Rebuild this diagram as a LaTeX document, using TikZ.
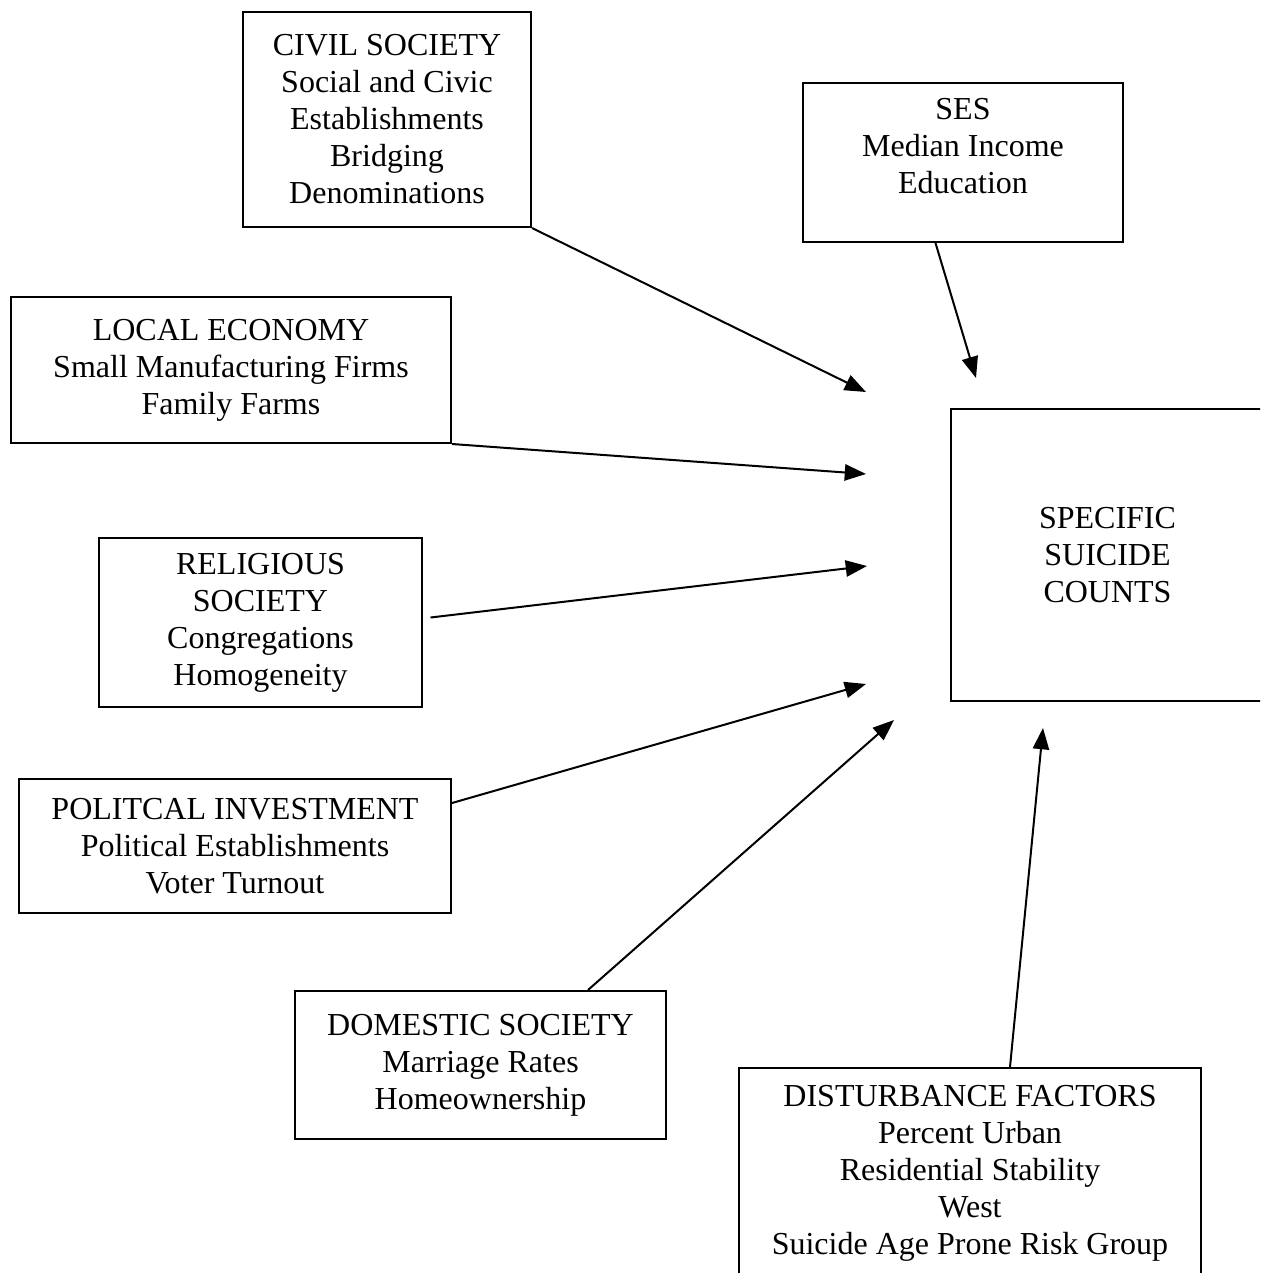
\documentclass[tikz,border=0pt]{standalone}
\usepackage{fontspec}
\setmainfont{Liberation Serif}
\usetikzlibrary{arrows.meta, positioning}
\tikzset{>={Triangle[length=8.5pt,width=6.5pt]},
    factor/.style={draw,line width=0.8pt,align=center,inner sep=0pt,anchor=north west,
        font=\fontsize{12.8pt}{14.8pt}\selectfont},
    link/.style={->,line width=0.8pt}}

\begin{document}
\begin{tikzpicture}
[x=0.4pt,y=-0.4pt]
\clip (0,0) rectangle (1260,1273);
\node[factor,minimum width=115.2pt,minimum height=86pt] (civil) at (242,11)
    {CIVIL SOCIETY\\Social and Civic\\Establishments\\Bridging\\Denominations};
\node[factor,minimum width=128pt,minimum height=63.6pt] (ses) at (802,82)
    {\parbox[c][63.6pt][t]{128pt}{\centering\vspace{6pt}SES\\Median Income\\Education}};
\node[factor,minimum width=176pt,minimum height=58.4pt] (local) at (10,296)
    {LOCAL ECONOMY\\Small Manufacturing Firms\\Family Farms};
\node[factor,minimum width=129.2pt,minimum height=67.6pt] (relig) at (98,537)
    {RELIGIOUS\\SOCIETY\\Congregations\\Homogeneity};
\node[factor,minimum width=172.8pt,minimum height=53.6pt] (polit) at (18,778)
    {POLITCAL INVESTMENT\\Political Establishments\\Voter Turnout};
\node[factor,minimum width=148.4pt,minimum height=59.2pt] (domest) at (294,990)
    {DOMESTIC SOCIETY\\Marriage Rates\\Homeownership};
\node[factor,minimum width=184.8pt,minimum height=84pt] (disturb) at (738,1067)
    {DISTURBANCE FACTORS\\Percent Urban\\Residential Stability\\West\\Suicide Age Prone Risk Group};
\node[factor,minimum width=125.2pt,minimum height=116.8pt] (counts) at (950,408)
    {SPECIFIC\\SUICIDE\\COUNTS};

% arrow heads stop short of the counts box
\coordinate (civilend) at (866,392);
\coordinate (sesend) at (976,378);
\coordinate (localend) at (866,474);
\coordinate (religend) at (867,566);
\coordinate (politend) at (866,684);
\coordinate (domestend) at (894,720);
\coordinate (disturbend) at (1043,728);

\path[link]
    (civil.south east) edge (civilend)
    ([xshift=-11pt]ses.south) edge (sesend)
    (local.south east) edge (localend)
    ([xshift=3pt,yshift=2pt]relig.east) edge (religend)
    ([yshift=-10pt]polit.north east) edge (politend)
    ([xshift=43pt]domest.north) edge (domestend)
    ([xshift=16pt]disturb.north) edge (disturbend);
\end{tikzpicture}
\end{document}
